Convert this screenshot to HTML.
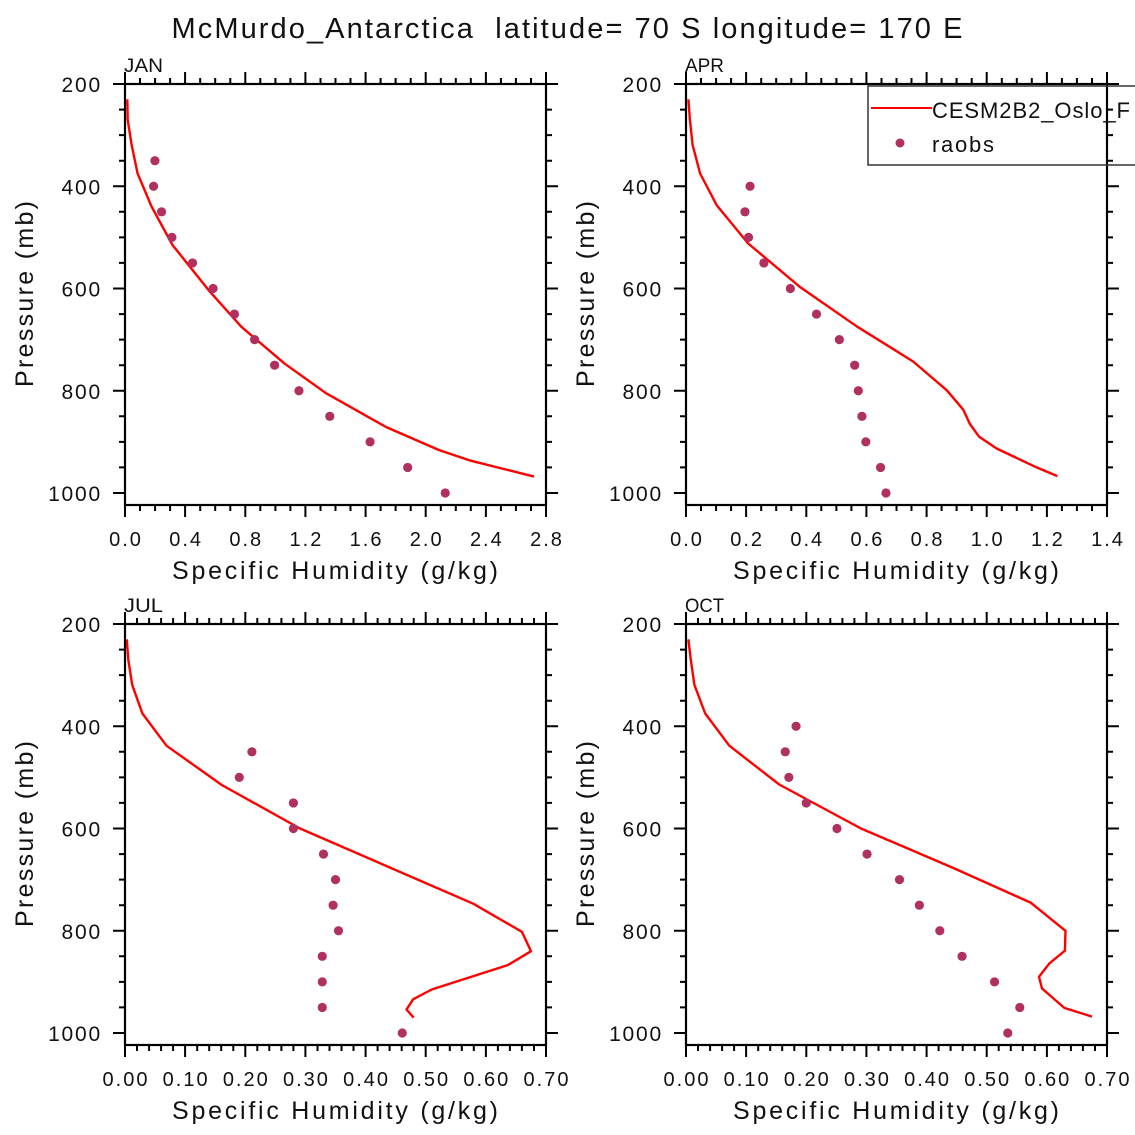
<!DOCTYPE html>
<html><head><meta charset="utf-8"><style>
html,body{margin:0;padding:0;background:#fff;}
svg{display:block;}
text{font-family:"Liberation Sans",sans-serif;fill:#111;}
</style></head><body>
<svg id="chart" width="1135" height="1135" viewBox="0 0 1135 1135" xmlns="http://www.w3.org/2000/svg">
<text x="567" y="38" font-size="29" text-anchor="middle" textLength="791" lengthAdjust="spacing" style="white-space:pre" xml:space="preserve">McMurdo_Antarctica  latitude= 70 S longitude= 170 E</text>
<g id="legend">
<rect x="868" y="86" width="300" height="79" fill="none" stroke="#333" stroke-width="1.5"/>
<line x1="871" y1="108" x2="932" y2="108" stroke="#f00" stroke-width="2"/>
<text x="932" y="118" font-size="22" textLength="198" lengthAdjust="spacing">CESM2B2_Oslo_F</text>
<circle cx="900" cy="143" r="4.5" fill="#b03060"/>
<text x="932" y="152" font-size="22" textLength="62" lengthAdjust="spacing">raobs</text>
</g>
</svg>
<script>
// JAN
const janModelP = [230,270,319,375,440,515,606,675,747,805,871,916,936,968];
const janModelQ = [0.015,0.018,0.044,0.084,0.177,0.316,0.564,0.774,1.062,1.338,1.736,2.09,2.29,2.72];
const janObsP = [350,400,450,500,550,600,650,700,750,800,850,900,950,1000];
const janObsQ = [0.199,0.19,0.243,0.312,0.449,0.586,0.728,0.862,0.995,1.157,1.362,1.63,1.88,2.13];
// APR
const aprModelP = [230,270,319,375,437,512,597,675,743,799,837,865,890,913,950,967];
const aprModelQ = [0.008,0.013,0.022,0.047,0.102,0.207,0.379,0.57,0.756,0.867,0.922,0.944,0.975,1.033,1.166,1.235];
const aprObsP = [400,450,500,550,600,650,700,750,800,850,900,950,1000];
const aprObsQ = [0.213,0.196,0.208,0.259,0.347,0.434,0.51,0.561,0.573,0.585,0.598,0.647,0.665];
// JUL
const julModelP = [230,270,319,375,438,515,600,747,802,840,867,915,934,954,970];
const julModelQ = [0.003,0.0055,0.012,0.029,0.069,0.161,0.291,0.579,0.66,0.675,0.637,0.51,0.479,0.468,0.48];
const julObsP = [450,500,550,600,650,700,750,800,850,900,950,1000];
const julObsQ = [0.211,0.19,0.28,0.28,0.33,0.35,0.346,0.355,0.328,0.328,0.328,0.461];
// OCT
const octModelP = [230,270,319,375,438,514,600,678,745,800,839,864,890,913,951,968];
const octModelQ = [0.004,0.008,0.014,0.032,0.072,0.155,0.291,0.446,0.573,0.631,0.63,0.604,0.587,0.592,0.629,0.675];
const octObsP = [400,450,500,550,600,650,700,750,800,850,900,950,1000];
const octObsQ = [0.183,0.165,0.171,0.2,0.251,0.301,0.355,0.388,0.422,0.459,0.513,0.555,0.535];
// axis tick definitions
const janXTicks = [0,0.4,0.8,1.2,1.6,2.0,2.4,2.8];
const aprXTicks = [0,0.2,0.4,0.6,0.8,1.0,1.2,1.4];
const julXTicks = [0,0.1,0.2,0.3,0.4,0.5,0.6,0.7];
const yTicks = [200,400,600,800,1000];

const NS = "http://www.w3.org/2000/svg";
const svg = document.getElementById('chart');
const legend = document.getElementById('legend');
function mk(tag, attrs, parent){
  const e = document.createElementNS(NS, tag);
  for (const k in attrs) e.setAttribute(k, attrs[k]);
  (parent||svg).appendChild(e);
  return e;
}
function panel(name, left, top, xmax, xTicks, xMinorStep, decimals, modelP, modelQ, obsP, obsQ){
  const W = 421, pTop = 200, pBot = 1000, bottomY = top + 421;
  const xs = v => left + v / xmax * W;
  const ys = p => top + (p - pTop) * 409 / (pBot - pTop);
  const g = mk('g', {});
  
  
  svg.insertBefore(g, legend);
  let d = '';
  for (let i = 0; i < modelP.length; i++) d += (i ? 'L' : 'M') + xs(modelQ[i]).toFixed(1) + ' ' + ys(modelP[i]).toFixed(1);
  const ln = mk('path', {d: d, fill: 'none', stroke: '#f00', 'stroke-width': 2.4, 'stroke-linejoin': 'round'}, g);
  
  
  for (let i = 0; i < obsP.length; i++) {
    const c = mk('circle', {cx: xs(obsQ[i]), cy: ys(obsP[i]), r: 4.6, fill: '#b03060'}, g);
    
    
  }
  const fr = mk('rect', {x: left, y: top, width: W, height: 421, fill: 'none', stroke: '#000', 'stroke-width': 2.2}, g);
  
  
  const nMinor = Math.round(xmax / xMinorStep);
  let td = '';
  for (let i = 0; i <= nMinor; i++) {
    const v = i * xMinorStep;
    const major = xTicks.some(t => Math.abs(t - v) < 1e-6);
    const L = major ? 12 : 6;
    const x = xs(v).toFixed(1);
    td += `M${x} ${bottomY}V${bottomY + L}M${x} ${top}V${top - L}`;
  }
  for (let p = 200; p <= 1000; p += 50) {
    const major = yTicks.includes(p);
    const L = major ? 12 : 6;
    const y = ys(p).toFixed(1);
    td += `M${left} ${y}H${left - L}M${left + W} ${y}H${left + W + L}`;
  }
  const tk = mk('path', {d: td, stroke: '#000', 'stroke-width': 2, fill: 'none'}, g);
  
  
  for (const t of xTicks) {
    const tx = mk('text', {x: xs(t) + 1, y: bottomY + 41, 'font-size': 20, 'text-anchor': 'middle', 'letter-spacing': '2'}, g);
    tx.textContent = t.toFixed(decimals);
    
    
  }
  for (const p of yTicks) {
    const ty = mk('text', {x: left - 23, y: ys(p) + 8, 'font-size': 21, 'text-anchor': 'end', 'letter-spacing': '1.8'}, g);
    ty.textContent = p;
    
    
  }
  const xt = mk('text', {x: left + 210, y: bottomY + 74, 'font-size': 25, 'text-anchor': 'middle', textLength: 326, lengthAdjust: 'spacing'}, g);
  xt.textContent = 'Specific Humidity (g/kg)';
  
  
  const yt = mk('text', {x: 0, y: 0, 'font-size': 25, 'text-anchor': 'middle', textLength: 186, lengthAdjust: 'spacing', transform: `translate(${left - 92},${top + 210}) rotate(-90)`}, g);
  yt.textContent = 'Pressure (mb)';
  
  
  const pl = mk('text', {x: left - 1, y: top - 12, 'font-size': 19, textLength: name.length * 13, lengthAdjust: 'spacingAndGlyphs'}, g);
  pl.textContent = name;
  
  
}
panel('JAN', 125, 84, 2.8, janXTicks, 0.1, 1, janModelP, janModelQ, janObsP, janObsQ);
panel('APR', 686, 84, 1.4, aprXTicks, 0.05, 1, aprModelP, aprModelQ, aprObsP, aprObsQ);
panel('JUL', 125, 624, 0.7, julXTicks, 0.02, 2, julModelP, julModelQ, julObsP, julObsQ);
panel('OCT', 686, 624, 0.7, julXTicks, 0.02, 2, octModelP, octModelQ, octObsP, octObsQ);
</script>
</body></html>
